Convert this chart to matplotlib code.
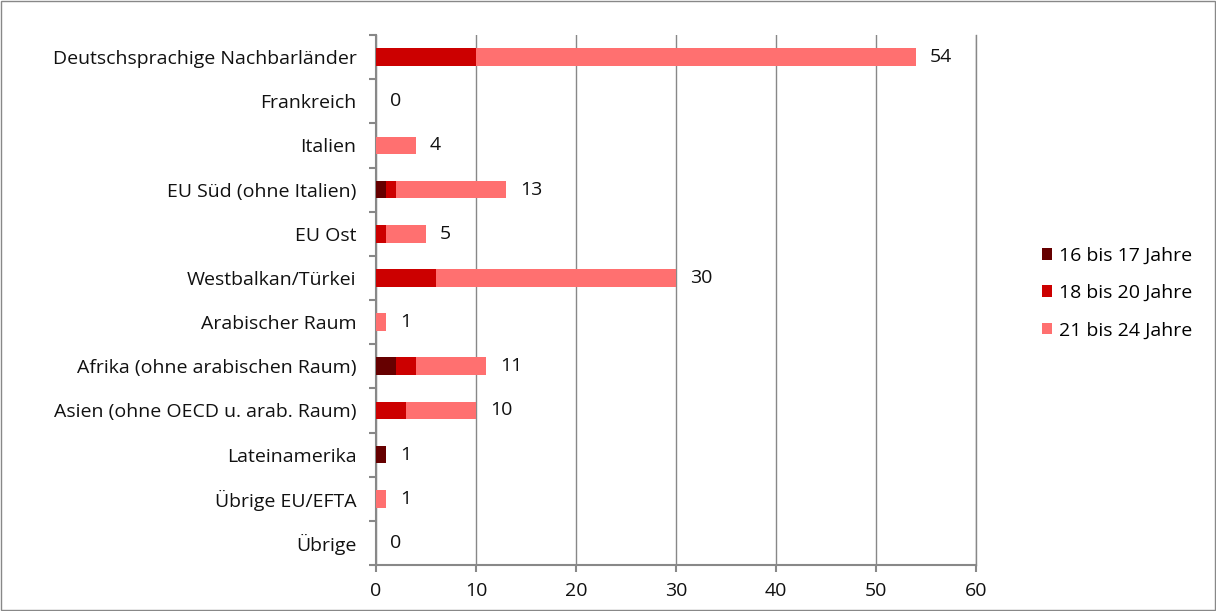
import numpy as np
import matplotlib.pyplot as plt

plt.rcParams['font.family'] = ['Open Sans', 'DejaVu Sans']

regions = ['Deutschsprachige Nachbarländer', 'Frankreich', 'Italien',
           'EU Süd (ohne Italien)', 'EU Ost', 'Westbalkan/Türkei',
           'Arabischer Raum', 'Afrika (ohne arabischen Raum)',
           'Asien (ohne OECD u. arab. Raum)', 'Lateinamerika',
           'Übrige EU/EFTA', 'Übrige']
age_16_17 = [0, 0, 0, 1, 0, 0, 0, 2, 0, 1, 0, 0]
age_18_20 = [10, 0, 0, 1, 1, 6, 0, 2, 3, 0, 0, 0]
age_21_24 = [44, 0, 4, 11, 4, 24, 1, 7, 7, 0, 1, 0]
series_names = ['16 bis 17 Jahre', '18 bis 20 Jahre', '21 bis 24 Jahre']
colors = ['#660000', '#CC0000', '#FF7070']

fs = 14
fig = plt.figure(figsize=(12.16, 6.11), dpi=100)
ax = fig.add_axes([376 / 1216, 46 / 611, 600 / 1216, 530 / 611])

y = np.arange(len(regions))
left = np.zeros(len(regions))
for vals, name, col in zip([age_16_17, age_18_20, age_21_24], series_names, colors):
    vals = np.array(vals)
    ax.barh(y, vals, left=left, height=0.4, color=col, label=name, zorder=3)
    left = left + vals

for yi, tot in zip(y, left):
    ax.text(tot + 1.4, yi, '%d' % tot, va='center', ha='left', fontsize=fs, color='#111111')

ax.set_ylim(len(regions) - 0.5, -0.5)
ax.set_xlim(0, 60)
ax.set_xticks(range(0, 61, 10))
ax.set_yticks(y)
ax.set_yticklabels(regions)
ax.set_yticks(np.arange(-0.5, len(regions), 1), minor=True)
ax.tick_params(axis='y', which='major', length=0, pad=14, labelsize=fs, labelcolor='#111111')
ax.tick_params(axis='y', which='minor', length=5, color='#888888', width=1.5)
ax.tick_params(axis='x', length=5, color='#888888', width=1.5, labelsize=fs,
               labelcolor='#111111', pad=7)
ax.grid(axis='x', color='#888888', linewidth=1, zorder=0)
ax.spines['top'].set_visible(False)
ax.spines['right'].set_color('#888888')
ax.spines['right'].set_linewidth(1)
for s in ['left', 'bottom']:
    ax.spines[s].set_color('#888888')
    ax.spines[s].set_linewidth(1.5)

fig.legend(loc='center left', bbox_to_anchor=(1024 / 1216, 1 - 293 / 611),
           frameon=False, fontsize=fs, handlelength=0.55, handleheight=0.55,
           handletextpad=0.35, labelspacing=1.0)

# outer frame
fig.patches.append(plt.Rectangle((0.001, 0.001), 0.998, 0.998, transform=fig.transFigure,
                                 fill=False, edgecolor='#888888', linewidth=1))

fig.savefig('out.png', dpi=100)
